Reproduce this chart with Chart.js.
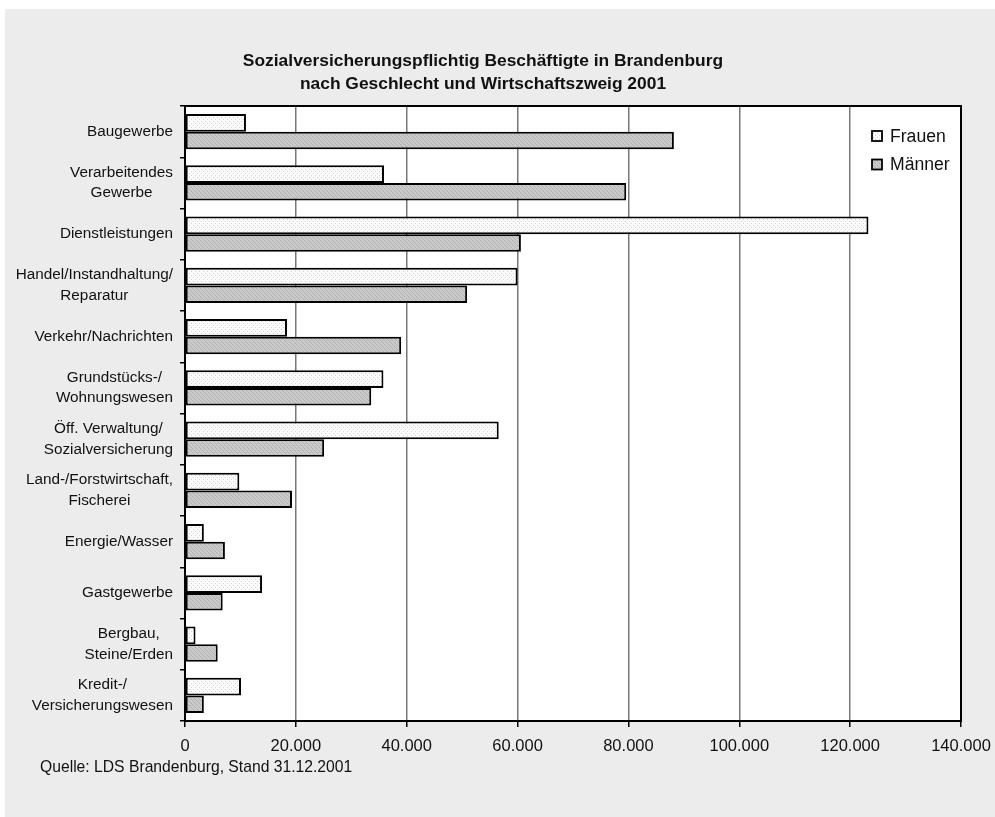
<!DOCTYPE html>
<html lang="de">
<head>
<meta charset="utf-8">
<title>Sozialversicherungspflichtig Beschäftigte in Brandenburg 2001</title>
<script src="https://cdn.jsdelivr.net/npm/chart.js@4.4.1/dist/chart.umd.min.js"></script>
<style>
  html, body { margin: 0; padding: 0; background: #fff; }
  #rahmen { position: absolute; left: 5px; top: 9px; width: 990px; height: 808px; background: #ececec; }
</style>
</head>
<body>
<div id="rahmen"><canvas id="beschaeftigteChart" width="990" height="808"></canvas></div>
<script>
// Daten: Sozialversicherungspflichtig Beschäftigte nach Wirtschaftszweig (Stand 31.12.2001)
const wirtschaftszweige = [
    ['Baugewerbe'],
    ['Verarbeitendes', 'Gewerbe'],
    ['Dienstleistungen'],
    ['Handel/Instandhaltung/', 'Reparatur'],
    ['Verkehr/Nachrichten'],
    ['Grundstücks-/', 'Wohnungswesen'],
    ['Öff. Verwaltung/', 'Sozialversicherung'],
    ['Land-/Forstwirtschaft,', 'Fischerei'],
    ['Energie/Wasser'],
    ['Gastgewerbe'],
    ['Bergbau,', 'Steine/Erden'],
    ['Kredit-/', 'Versicherungswesen']
];
const frauen = [11000, 35900, 123300, 60000, 18400, 35800, 56600, 9800, 3400, 13900, 1900, 10100];
const maenner = [88200, 79600, 60600, 50900, 39000, 33600, 25100, 19300, 7200, 6800, 5900, 3400];
const xTicks = [0, 20000, 40000, 60000, 80000, 100000, 120000, 140000];

const titelZeilen = ['Sozialversicherungspflichtig Beschäftigte in Brandenburg', 'nach Geschlecht und Wirtschaftszweig 2001'];
const quelle = 'Quelle: LDS Brandenburg, Stand 31.12.2001';

const schrift = "'Liberation Sans', Arial, sans-serif";
const textFarbe = '#111111';

// Kleine Rastermuster wie im Original (gepunktet / schraffiert)
function maakMuster(grund, punkte, punktFarbe) {
    const c = document.createElement('canvas');
    c.width = 4;
    c.height = 4;
    const cx = c.getContext('2d');
    cx.fillStyle = grund;
    cx.fillRect(0, 0, 4, 4);
    cx.fillStyle = punktFarbe;
    punkte.forEach(p => cx.fillRect(p[0], p[1], 1, 1));
    return cx.createPattern(c, 'repeat');
}
const musterFrauen = maakMuster('#fbfbfb', [[0, 0], [2, 2]], '#d2d2d2');
const musterMaenner = maakMuster('#cacaca', [[0, 0], [1, 1], [2, 2], [3, 3]], '#b2b2b2');

function tausender(v) {
    return String(v).replace(/\B(?=(\d{3})+(?!\d))/g, '.');
}

// Weißer Diagrammbereich + schwarzer Rahmen
const rahmenPlugin = {
    id: 'rahmen',
    beforeDraw(chart) {
        const a = chart.chartArea;
        const ctx = chart.ctx;
        ctx.save();
        ctx.fillStyle = '#ffffff';
        ctx.fillRect(a.left, a.top, a.right - a.left, a.bottom - a.top);
        ctx.restore();
    },
    afterDatasetsDraw(chart) {
        const a = chart.chartArea;
        const ctx = chart.ctx;
        ctx.save();
        ctx.strokeStyle = '#000';
        ctx.lineWidth = 2;
        ctx.strokeRect(a.left, a.top, a.right - a.left, a.bottom - a.top);
        ctx.restore();
    }
};

// Kategorienbeschriftung: Block rechtsbündig, Zeilen darin zentriert
const beschriftungPlugin = {
    id: 'beschriftung',
    afterDraw(chart) {
        const ctx = chart.ctx;
        const yScale = chart.scales.y;
        const rechts = chart.chartArea.left - 12;
        ctx.save();
        ctx.font = '15.3px ' + schrift;
        ctx.fillStyle = textFarbe;
        ctx.textAlign = 'center';
        ctx.textBaseline = 'middle';
        wirtschaftszweige.forEach((zeilen, i) => {
            const y = yScale.getPixelForValue(i);
            const breite = Math.max(...zeilen.map(z => ctx.measureText(z).width));
            const mitte = rechts - breite / 2;
            zeilen.forEach((z, j) => {
                ctx.fillText(z, mitte, y + (j - (zeilen.length - 1) / 2) * 20.7);
            });
        });

        // Quelle unter der Achse
        ctx.textAlign = 'left';
        ctx.font = '15.7px ' + schrift;
        ctx.fillText(quelle, 35, 759);

        // Legende oben rechts im Diagrammbereich
        const a = chart.chartArea;
        const lx = a.right - 89;
        ctx.font = '17.6px ' + schrift;
        chart.data.datasets.forEach((ds, i) => {
            const ly = a.top + 30 + i * 28.5;
            ctx.fillStyle = ds.backgroundColor;
            ctx.fillRect(lx, ly - 5, 10, 10);
            ctx.strokeStyle = '#000';
            ctx.lineWidth = 1.8;
            ctx.strokeRect(lx, ly - 5, 10, 10);
            ctx.fillStyle = textFarbe;
            ctx.fillText(ds.label, lx + 18, ly + 1);
        });
        ctx.restore();
    }
};

const ctx = document.getElementById('beschaeftigteChart').getContext('2d');
new Chart(ctx, {
    type: 'bar',
    data: {
        labels: wirtschaftszweige,
        datasets: [
            {
                label: 'Frauen',
                data: frauen,
                backgroundColor: musterFrauen,
                borderColor: '#000',
                borderWidth: 2,
                borderSkipped: false
            },
            {
                label: 'Männer',
                data: maenner,
                backgroundColor: musterMaenner,
                borderColor: '#000',
                borderWidth: 2,
                borderSkipped: false
            }
        ]
    },
    options: {
        indexAxis: 'y',
        responsive: false,
        animation: false,
        categoryPercentage: 0.683,
        barPercentage: 1,
        layout: { padding: { left: 0, right: 34, top: 0, bottom: 62 } },
        plugins: {
            legend: { display: false },
            tooltip: { enabled: false },
            title: {
                display: true,
                text: titelZeilen,
                color: textFarbe,
                font: { family: schrift, size: 17.4, weight: 'bold', lineHeight: 23 / 17.4 },
                padding: { top: 41, bottom: 10 }
            }
        },
        scales: {
            x: {
                min: xTicks[0],
                max: xTicks[xTicks.length - 1],
                ticks: {
                    stepSize: xTicks[1] - xTicks[0],
                    padding: 10,
                    color: textFarbe,
                    font: { family: schrift, size: 16.5 },
                    callback: v => tausender(v)
                },
                grid: { color: '#787878', lineWidth: 1.5, tickColor: '#000', tickLength: 6, tickWidth: 1.5 },
                border: { display: false },
                afterFit: s => {
                    s.height = 34;
                    // Randbeschriftung darf über den Diagrammbereich hinausragen
                    s.paddingLeft = 0;
                    s.paddingRight = 0;
                }
            },
            y: {
                ticks: { display: false },
                grid: { offset: true, drawOnChartArea: false, color: '#000', tickLength: 5, lineWidth: 1.5 },
                border: { display: false },
                afterFit: s => { s.width = 180; }
            }
        }
    },
    plugins: [rahmenPlugin, beschriftungPlugin]
});
</script>
</body>
</html>
